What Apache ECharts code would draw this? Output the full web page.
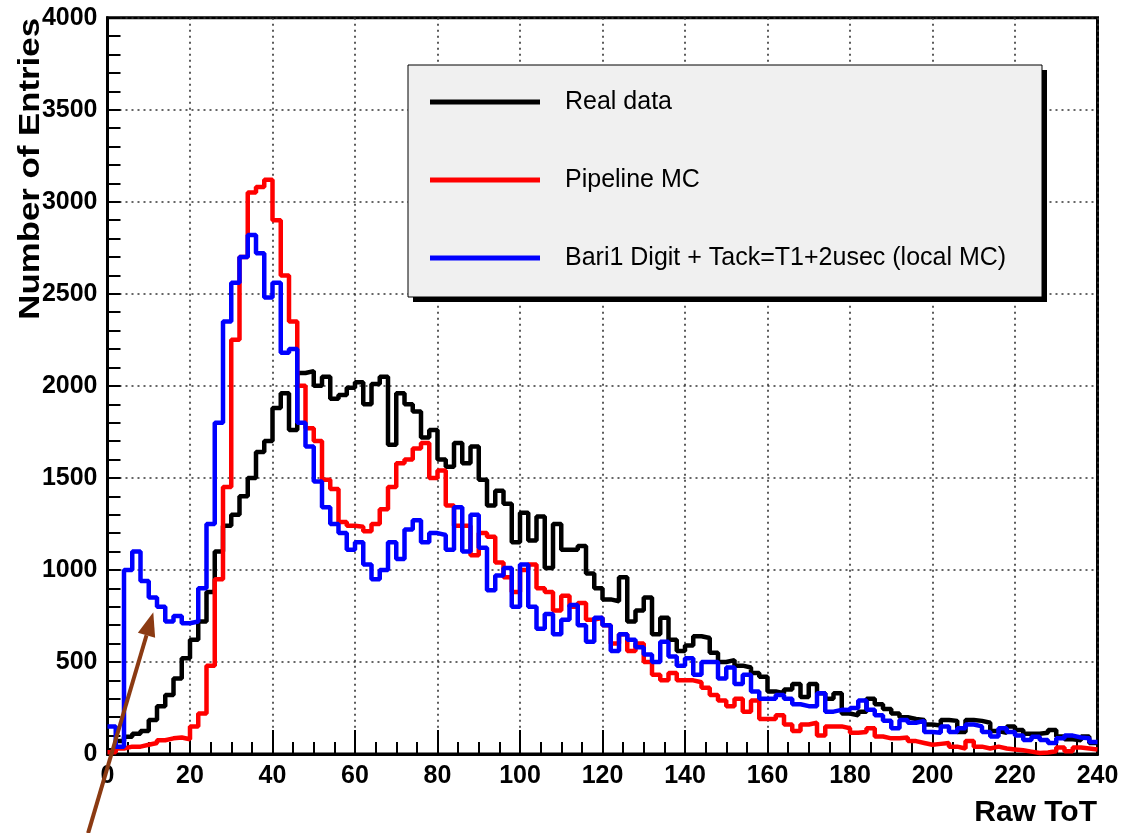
<!DOCTYPE html>
<html><head><meta charset="utf-8">
<script src="https://cdn.jsdelivr.net/npm/echarts@6/dist/echarts.min.js"></script>
<style>html,body{margin:0;padding:0;background:#fff}#chart{width:1131px;height:833px}</style>
</head><body><div id="chart"></div>
<script>
// Histogram binning (Raw ToT)
const binLow = 0;
const binWidth = 2;

// Bin contents (120 bins of width 2, from 0 to 240)
const realData = [
  20, 70, 94, 110, 125, 185, 260, 320, 410, 520,
  620, 720, 880, 1100, 1240, 1300, 1400, 1500, 1640, 1700,
  1880, 1960, 1760, 2070, 2080, 2000, 2050, 1930, 1950, 1990,
  2020, 1900, 2010, 2050, 1680, 1960, 1900, 1860, 1720, 1760,
  1600, 1560, 1690, 1580, 1670, 1490, 1350, 1430, 1360, 1150,
  1310, 1160, 1290, 1010, 1250, 1110, 1110, 1130, 980, 900,
  840, 830, 960, 720, 780, 850, 650, 740, 620, 560,
  590, 640, 630, 550, 500, 510, 480, 470, 440, 420,
  340, 330, 350, 380, 310, 380, 330, 300, 330, 220,
  210, 230, 300, 270, 245, 220, 200, 190, 185, 160,
  155, 185, 180, 120, 185, 180, 170, 125, 115, 150,
  130, 110, 110, 115, 130, 95, 80, 75, 95, 60
];
const pipelineMC = [
  10, 30, 40, 40, 50, 60, 75, 85, 90, 80,
  150, 220, 480, 950, 1450, 2250, 2700, 3050, 3080, 3120,
  2900, 2600, 2350, 2000, 1770, 1700, 1490, 1440, 1260, 1240,
  1235, 1210, 1250, 1330, 1450, 1580, 1600, 1660, 1690, 1500,
  1540, 1350, 1240, 1240, 1080, 1200, 1180, 1040, 960, 880,
  1000, 1030, 900, 880, 780, 860, 800, 820, 730, 740,
  700, 600, 650, 560, 600, 500, 430, 400, 440, 400,
  400, 390, 360, 320, 290, 260, 300, 230, 290, 190,
  190, 210, 160, 125, 160, 170, 100, 150, 150, 140,
  115, 120, 140, 95, 85, 85, 90, 70, 60, 50,
  55, 60, 40, 30, 70, 40, 30, 40, 30, 25,
  20, 13, 5, 8, 15, 35, 15, 35, 30, 25
];
const localMC = [
  150, 40, 1000, 1100, 940, 850, 800, 720, 750, 710,
  720, 900, 1250, 1800, 2350, 2560, 2700, 2820, 2720, 2480,
  2560, 2180, 2200, 1800, 1670, 1480, 1340, 1250, 1200, 1110,
  1150, 1030, 950, 1000, 1150, 1060, 1220, 1270, 1150, 1200,
  1190, 1110, 1340, 1100, 1300, 1120, 890, 970, 1010, 800,
  1030, 800, 680, 760, 650, 730, 810, 700, 610, 740,
  700, 560, 650, 620, 580, 540, 500, 610, 530, 480,
  520, 430, 500, 500, 410, 470, 380, 430, 340, 300,
  300, 320, 300, 270, 260, 260, 330, 230, 240, 239,
  250, 290, 240, 210, 180, 140, 185, 170, 180, 120,
  115, 150, 120, 140, 160, 150, 120, 95, 140, 120,
  100, 76, 94, 76, 60, 85, 100, 90, 85, 65
];

const seriesNames = ['Real data', 'Pipeline MC', 'Bari1 Digit + Tack=T1+2usec (local MC)'];
const seriesColors = ['#000000', '#ff0000', '#0000ff'];

const xAxisTitle = 'Raw ToT';
const yAxisTitle = 'Number of Entries';

// arrow annotation endpoints (data space)
const arrowTail = [-4.7, -430];
const arrowTip = [11.1, 770];

function toSteps(vals) {
  const pts = vals.map((v, i) => [binLow + i * binWidth, v]);
  pts.push([binLow + vals.length * binWidth, vals[vals.length - 1]]);
  return pts;
}

const chart = echarts.init(document.getElementById('chart'), null, {renderer: 'canvas'});
const FONT = '"Liberation Sans", Arial, Helvetica, sans-serif';

const allData = [realData, pipelineMC, localMC];

// legend box geometry (pixels)
const LEG = {x: 408, y: 65, w: 634, h: 232};

const titles = [
  {
    type: 'text', right: 34, top: 798,
    style: {text: xAxisTitle, font: 'bold 30px ' + FONT, fill: '#000'}
  },
  {
    type: 'text', x: 31, y: 18, rotation: Math.PI / 2, scaleX: 1.16,
    style: {text: yAxisTitle, font: 'bold 30px ' + FONT, fill: '#000', textAlign: 'right', textVerticalAlign: 'middle'}
  },
  {
    type: 'rect', z: 3, silent: true,
    shape: {x: LEG.x + 5, y: LEG.y + 5, width: LEG.w, height: LEG.h},
    style: {fill: '#000'}
  },
  {
    type: 'rect', z: 3, silent: true,
    shape: {x: LEG.x, y: LEG.y, width: LEG.w, height: LEG.h},
    style: {fill: '#f0f0f0', stroke: '#000', lineWidth: 1}
  }
];

const option = {
  backgroundColor: '#ffffff',
  animation: false,
  grid: {
    left: 107.5, right: 33.5, top: 17.7, bottom: 79,
    show: true, borderColor: '#000', borderWidth: 3, backgroundColor: '#fff'
  },
  xAxis: {
    type: 'value', min: 0, max: 240, interval: 20,
    axisLine: {show: true, onZero: false, lineStyle: {color: '#000', width: 3}},
    axisTick: {show: true, inside: true, length: 24, lineStyle: {color: '#000', width: 2}},
    minorTick: {show: true, splitNumber: 4, length: 12, lineStyle: {color: '#000', width: 2}},
    splitLine: {show: true, lineStyle: {type: [2, 4], color: '#333', width: 1.6}},
    axisLabel: {color: '#000', fontFamily: FONT, fontWeight: 'bold', fontSize: 25, margin: 10,
      formatter: v => String(v)}
  },
  yAxis: {
    type: 'value', min: 0, max: 4000, interval: 500,
    axisLine: {show: true, onZero: false, lineStyle: {color: '#000', width: 3}},
    axisTick: {show: true, inside: true, length: 13, lineStyle: {color: '#000', width: 2}},
    minorTick: {show: true, splitNumber: 5, length: 13, lineStyle: {color: '#000', width: 2}},
    splitLine: {show: true, lineStyle: {type: [2, 4], color: '#333', width: 1.6}},
    axisLabel: {color: '#000', fontFamily: FONT, fontWeight: 'bold', fontSize: 25, margin: 10,
      formatter: v => String(v)}
  },
  legend: {
    orient: 'vertical', left: LEG.x, top: LEG.y, z: 4,
    backgroundColor: 'transparent', borderWidth: 0,
    padding: [22, 33, 24, 22],
    itemGap: 48, itemWidth: 110, itemHeight: 5, icon: 'rect',
    selectedMode: false,
    textStyle: {fontFamily: FONT, fontSize: 25, color: '#000', lineHeight: 30, padding: [0, 0, 0, 20]},
    data: seriesNames
  },
  series: allData.map((vals, k) => ({
    name: seriesNames[k],
    type: 'line',
    step: 'end',
    showSymbol: false,
    symbol: 'none',
    color: seriesColors[k],
    lineStyle: {color: seriesColors[k], width: 4.5},
    data: toSteps(vals),
    z: 2
  })),
  graphic: titles
};
chart.setOption(option);

// brown arrow annotation, positioned through the grid's coordinate system
const p0 = chart.convertToPixel({gridIndex: 0}, arrowTail);
const p1 = chart.convertToPixel({gridIndex: 0}, arrowTip);
const dx = p1[0] - p0[0], dy = p1[1] - p0[1];
const len = Math.sqrt(dx * dx + dy * dy);
const ux = dx / len, uy = dy / len;
const headLen = 24, headHalf = 9;
const bx = p1[0] - ux * headLen, by = p1[1] - uy * headLen;
const ARROW = '#8b3a12';
chart.setOption({
  graphic: titles.concat([
    {
      type: 'line', z: 100,
      shape: {x1: p0[0], y1: p0[1], x2: bx, y2: by},
      style: {stroke: ARROW, lineWidth: 4}
    },
    {
      type: 'polygon', z: 100,
      shape: {points: [[p1[0], p1[1]], [bx - uy * headHalf, by + ux * headHalf], [bx + uy * headHalf, by - ux * headHalf]]},
      style: {fill: ARROW}
    }
  ])
});
</script>
</body></html>
